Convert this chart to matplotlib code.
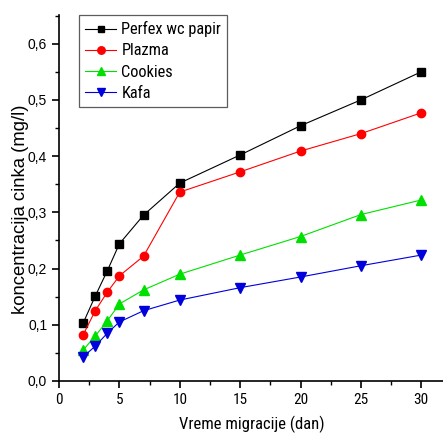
import matplotlib
matplotlib.use("Agg")
import matplotlib.pyplot as plt
from matplotlib.ticker import MultipleLocator, FuncFormatter

NARROW = ['Liberation Sans Narrow', 'Roboto Condensed', 'Arial Narrow', 'Liberation Sans', 'DejaVu Sans']
REGULAR = ['Liberation Sans', 'DejaVu Sans']
plt.rcParams['font.family'] = REGULAR

days = [2, 3, 4, 5, 7, 10, 15, 20, 25, 30]
perfex = [0.103, 0.151, 0.196, 0.244, 0.295, 0.352, 0.402, 0.454, 0.500, 0.550]
plazma = [0.082, 0.125, 0.158, 0.187, 0.222, 0.336, 0.372, 0.409, 0.440, 0.477]
cookies = [0.055, 0.080, 0.107, 0.137, 0.162, 0.190, 0.224, 0.257, 0.296, 0.322]
kafa = [0.043, 0.062, 0.085, 0.105, 0.125, 0.144, 0.166, 0.185, 0.205, 0.224]

series = [
    ("Perfex wc papir", perfex, "black", "s", 5.5),
    ("Plazma", plazma, "red", "o", 6),
    ("Cookies", cookies, "#00e000", "^", 6.5),
    ("Kafa", kafa, "#0000dd", "v", 6.5),
]

fig = plt.figure(figsize=(4.43, 4.33), dpi=100)
ax = fig.add_axes([59 / 443, 1 - 381 / 433, 1 - 59 / 443, (381 - 15) / 433])

for name, vals, col, mk, ms in series:
    ax.plot(days, vals, color=col, marker=mk, markersize=ms, linewidth=0.8,
            label=name, markeredgecolor=col)

ax.set_xlim(0, 31.8)
ax.set_ylim(0, 0.651)
ax.xaxis.set_major_locator(MultipleLocator(5))
ax.xaxis.set_minor_locator(MultipleLocator(2.5))
ax.yaxis.set_major_locator(MultipleLocator(0.1))
ax.yaxis.set_minor_locator(MultipleLocator(0.05))
ax.yaxis.set_major_formatter(FuncFormatter(lambda v, p: f"{v:.1f}".replace(".", ",")))
ax.spines['top'].set_visible(False)
ax.spines['right'].set_visible(False)
ax.spines['left'].set_linewidth(1.2)
ax.spines['bottom'].set_linewidth(1.2)
ax.tick_params(which='major', direction='out', length=5, width=1.2, labelsize=10)
ax.tick_params(which='minor', direction='out', length=3, width=1.0)
for t in ax.get_xticklabels():
    t.set_fontfamily(NARROW)
    t.set_fontsize(11)

ax.set_xlabel("Vreme migracije (dan)", fontsize=12, family=NARROW)
ax.xaxis.set_label_coords(0.503, -0.096)
ax.set_ylabel("koncentracija cinka (mg/l)", fontsize=13.3)
ax.yaxis.set_label_coords(-0.078, 0.47)

leg = ax.legend(loc='upper left', bbox_to_anchor=(20 / 384, 1.0),
                prop={'family': NARROW, 'size': 11.8},
                frameon=True, fancybox=False, edgecolor='#333333', borderaxespad=0,
                handlelength=1.9, labelspacing=0.38, borderpad=0.38, handletextpad=0.3,
                markerscale=0.9)
leg.get_frame().set_linewidth(0.9)

fig.savefig("out.png", dpi=100)
